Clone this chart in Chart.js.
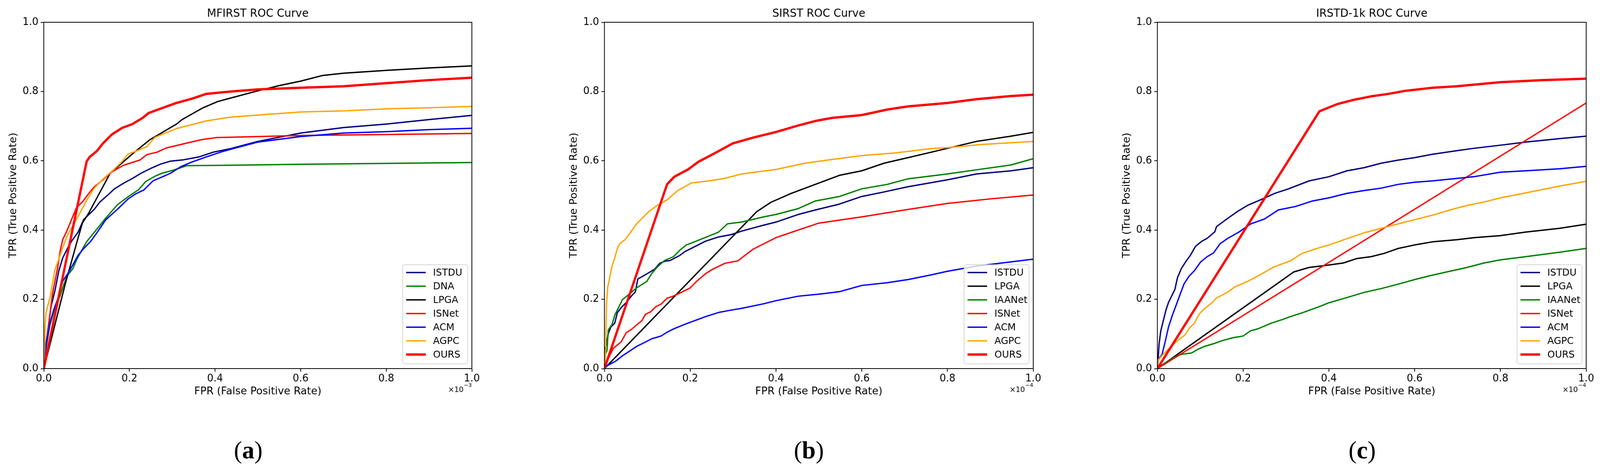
<!DOCTYPE html>
<html>
<head>
<meta charset="utf-8">
<title>ROC Curves</title>
<script src="https://cdn.jsdelivr.net/npm/chart.js"></script>
<style>
  html, body { margin: 0; background: #fff; overflow: hidden; }
  #page { position: relative; width: 4164px; height: 1214px; transform-origin: 0 0; }
  canvas { position: absolute; top: 0; }
  .tag { position: absolute; top: 1113px; width: 200px; text-align: center;
         font-family: 'Liberation Serif', serif; font-size: 64px; line-height: 80px; color: #000; }
</style>
</head>
<body>
<div id="page">
  <canvas id="chartA" width="1258" height="1040" style="left:0px"></canvas>
  <canvas id="chartB" width="1260" height="1040" style="left:1459px"></canvas>
  <canvas id="chartC" width="1260" height="1040" style="left:2898px"></canvas>
  <div class="tag" style="left:546px">(<b>a</b>)</div>
  <div class="tag" style="left:2005px">(<b>b</b>)</div>
  <div class="tag" style="left:3445px">(<b>c</b>)</div>
</div>
<script>
// ---- data: [FPR, TPR] pairs (FPR in units of the axis multiplier)
const mfirstISTDU = [[0,0],[0.002,0.045],[0.008,0.098],[0.017,0.18],[0.026,0.225],[0.035,0.282],[0.044,0.319],[0.056,0.349],[0.065,0.368],[0.08,0.394],[0.093,0.43],[0.118,0.46],[0.131,0.481],[0.152,0.504],[0.165,0.519],[0.186,0.535],[0.207,0.549],[0.227,0.564],[0.248,0.577],[0.272,0.59],[0.296,0.599],[0.327,0.603],[0.362,0.611],[0.396,0.625],[0.436,0.635],[0.5,0.656],[0.6,0.68],[0.7,0.696],[0.8,0.706],[0.9,0.719],[1.0,0.731]]
const mfirstDNA = [[0,0],[0.004,0.05],[0.014,0.124],[0.026,0.176],[0.038,0.21],[0.047,0.244],[0.056,0.27],[0.068,0.289],[0.077,0.315],[0.092,0.349],[0.101,0.368],[0.119,0.395],[0.145,0.435],[0.172,0.473],[0.2,0.499],[0.221,0.516],[0.238,0.54],[0.259,0.555],[0.276,0.564],[0.303,0.573],[0.334,0.586],[0.436,0.587],[0.6,0.59],[1.0,0.595]]
const mfirstLPGA = [[0,0],[0.05,0.244],[0.077,0.364],[0.09,0.42],[0.104,0.447],[0.155,0.564],[0.207,0.62],[0.248,0.661],[0.31,0.706],[0.323,0.719],[0.372,0.753],[0.406,0.771],[0.436,0.781],[0.5,0.802],[0.55,0.817],[0.6,0.83],[0.65,0.846],[0.7,0.853],[0.8,0.861],[0.9,0.868],[1.0,0.874]]
const mfirstISNet = [[0,0],[0.002,0.034],[0.008,0.094],[0.014,0.154],[0.02,0.214],[0.026,0.252],[0.032,0.289],[0.038,0.338],[0.044,0.372],[0.053,0.395],[0.076,0.464],[0.09,0.481],[0.104,0.504],[0.118,0.525],[0.138,0.545],[0.159,0.568],[0.186,0.587],[0.224,0.602],[0.241,0.618],[0.265,0.625],[0.286,0.637],[0.33,0.65],[0.368,0.661],[0.403,0.667],[0.436,0.668],[0.6,0.673],[0.8,0.676],[1.0,0.679]]
const mfirstACM = [[0,0],[0.004,0.056],[0.008,0.086],[0.014,0.131],[0.023,0.169],[0.032,0.199],[0.044,0.252],[0.056,0.274],[0.068,0.3],[0.08,0.327],[0.092,0.345],[0.11,0.368],[0.125,0.394],[0.145,0.43],[0.172,0.46],[0.197,0.49],[0.214,0.504],[0.234,0.516],[0.255,0.542],[0.276,0.553],[0.296,0.564],[0.32,0.583],[0.345,0.596],[0.379,0.611],[0.413,0.625],[0.436,0.633],[0.5,0.654],[0.6,0.67],[0.7,0.68],[0.8,0.684],[0.9,0.69],[1.0,0.694]]
const mfirstAGPC = [[0,0],[0.002,0.06],[0.003,0.12],[0.005,0.16],[0.01,0.185],[0.015,0.207],[0.02,0.244],[0.026,0.286],[0.035,0.316],[0.044,0.349],[0.056,0.387],[0.08,0.439],[0.1,0.486],[0.118,0.521],[0.138,0.547],[0.162,0.573],[0.183,0.598],[0.197,0.62],[0.214,0.627],[0.241,0.641],[0.259,0.667],[0.276,0.676],[0.31,0.693],[0.345,0.704],[0.379,0.715],[0.436,0.726],[0.5,0.732],[0.6,0.741],[0.7,0.744],[0.8,0.75],[0.9,0.753],[1.0,0.757]]
const mfirstOURS = [[0,0],[0.1,0.598],[0.107,0.611],[0.124,0.628],[0.138,0.65],[0.159,0.676],[0.183,0.695],[0.207,0.706],[0.231,0.724],[0.245,0.738],[0.276,0.752],[0.31,0.767],[0.345,0.779],[0.379,0.793],[0.436,0.8],[0.5,0.806],[0.6,0.811],[0.7,0.815],[0.8,0.824],[0.9,0.833],[1.0,0.84]]

const sirstISTDU = [[0,0],[0.002,0.056],[0.009,0.101],[0.015,0.12],[0.024,0.131],[0.03,0.161],[0.039,0.176],[0.051,0.191],[0.066,0.214],[0.072,0.221],[0.078,0.259],[0.087,0.265],[0.105,0.278],[0.117,0.287],[0.129,0.304],[0.141,0.31],[0.153,0.312],[0.176,0.327],[0.188,0.338],[0.212,0.353],[0.236,0.368],[0.266,0.38],[0.296,0.387],[0.32,0.397],[0.371,0.414],[0.4,0.423],[0.452,0.445],[0.492,0.458],[0.548,0.475],[0.6,0.497],[0.652,0.51],[0.708,0.525],[0.8,0.545],[0.868,0.562],[0.948,0.571],[1.0,0.58]]
const sirstLPGA = [[0,0],[0.355,0.453],[0.388,0.48],[0.436,0.506],[0.492,0.532],[0.548,0.558],[0.6,0.571],[0.652,0.593],[0.708,0.609],[0.756,0.623],[0.8,0.636],[0.868,0.656],[0.948,0.671],[1.0,0.682]]
const sirstIAANet = [[0,0],[0.002,0.041],[0.006,0.052],[0.009,0.112],[0.018,0.128],[0.024,0.154],[0.03,0.169],[0.036,0.184],[0.042,0.199],[0.057,0.214],[0.075,0.233],[0.084,0.24],[0.099,0.252],[0.11,0.274],[0.123,0.293],[0.14,0.312],[0.161,0.323],[0.176,0.342],[0.191,0.357],[0.206,0.364],[0.236,0.379],[0.266,0.394],[0.287,0.418],[0.32,0.423],[0.371,0.438],[0.4,0.445],[0.452,0.462],[0.492,0.484],[0.548,0.497],[0.6,0.519],[0.66,0.532],[0.708,0.548],[0.8,0.562],[0.868,0.574],[0.948,0.588],[1.0,0.606]]
const sirstISNet = [[0,0],[0.003,0.011],[0.012,0.037],[0.021,0.059],[0.039,0.077],[0.051,0.104],[0.063,0.113],[0.075,0.126],[0.087,0.138],[0.096,0.157],[0.108,0.164],[0.12,0.179],[0.132,0.186],[0.146,0.203],[0.158,0.208],[0.176,0.218],[0.2,0.233],[0.215,0.252],[0.236,0.274],[0.251,0.286],[0.281,0.304],[0.311,0.311],[0.347,0.345],[0.4,0.378],[0.452,0.4],[0.5,0.42],[0.6,0.438],[0.7,0.458],[0.8,0.477],[0.9,0.49],[1.0,0.501]]
const sirstACM = [[0,0],[0.006,0.008],[0.027,0.022],[0.042,0.037],[0.057,0.049],[0.075,0.064],[0.093,0.075],[0.11,0.086],[0.132,0.094],[0.146,0.105],[0.164,0.116],[0.188,0.128],[0.212,0.139],[0.236,0.15],[0.266,0.162],[0.296,0.169],[0.32,0.174],[0.371,0.187],[0.4,0.196],[0.452,0.209],[0.508,0.216],[0.548,0.222],[0.6,0.24],[0.66,0.248],[0.708,0.257],[0.76,0.27],[0.8,0.281],[0.868,0.296],[1.0,0.316]]
const sirstAGPC = [[0,0],[0.002,0.004],[0.0027,0.056],[0.0033,0.098],[0.0048,0.184],[0.0078,0.237],[0.0107,0.252],[0.0152,0.282],[0.018,0.297],[0.024,0.319],[0.03,0.346],[0.036,0.361],[0.048,0.372],[0.057,0.387],[0.075,0.418],[0.103,0.453],[0.123,0.471],[0.147,0.488],[0.171,0.514],[0.203,0.536],[0.243,0.542],[0.28,0.549],[0.32,0.562],[0.4,0.575],[0.468,0.593],[0.52,0.602],[0.6,0.615],[0.68,0.623],[0.76,0.635],[0.8,0.638],[0.88,0.647],[1.0,0.656]]
const sirstOURS = [[0,0],[0.146,0.532],[0.163,0.554],[0.195,0.575],[0.219,0.597],[0.259,0.623],[0.299,0.65],[0.347,0.667],[0.4,0.683],[0.452,0.702],[0.492,0.715],[0.532,0.724],[0.6,0.732],[0.66,0.748],[0.708,0.757],[0.8,0.767],[0.868,0.778],[0.948,0.787],[1.0,0.791]]

const irstdISTDU = [[0,0],[0.002,0.034],[0.004,0.071],[0.008,0.109],[0.014,0.139],[0.02,0.169],[0.026,0.191],[0.032,0.206],[0.041,0.229],[0.047,0.263],[0.056,0.289],[0.068,0.312],[0.077,0.327],[0.089,0.353],[0.104,0.368],[0.116,0.376],[0.134,0.395],[0.138,0.41],[0.162,0.432],[0.186,0.453],[0.21,0.471],[0.242,0.488],[0.274,0.506],[0.306,0.519],[0.354,0.542],[0.4,0.554],[0.442,0.571],[0.482,0.58],[0.522,0.593],[0.562,0.602],[0.6,0.609],[0.642,0.619],[0.698,0.629],[0.738,0.636],[0.8,0.645],[0.858,0.654],[0.938,0.664],[1.0,0.671]]
const irstdLPGA = [[0,0],[0.318,0.279],[0.354,0.292],[0.4,0.299],[0.434,0.305],[0.466,0.318],[0.498,0.323],[0.53,0.333],[0.562,0.347],[0.6,0.357],[0.642,0.366],[0.698,0.372],[0.738,0.378],[0.8,0.384],[0.858,0.394],[0.938,0.405],[1.0,0.417]]
const irstdIAANet = [[0,0],[0.011,0.011],[0.026,0.022],[0.041,0.034],[0.056,0.041],[0.08,0.045],[0.095,0.056],[0.11,0.064],[0.134,0.073],[0.152,0.081],[0.176,0.089],[0.2,0.094],[0.217,0.109],[0.235,0.115],[0.265,0.131],[0.295,0.143],[0.31,0.15],[0.338,0.161],[0.378,0.179],[0.4,0.19],[0.442,0.205],[0.482,0.22],[0.522,0.231],[0.562,0.244],[0.6,0.257],[0.642,0.27],[0.682,0.281],[0.722,0.292],[0.762,0.305],[0.8,0.314],[0.858,0.323],[0.938,0.336],[1.0,0.347]]
const irstdISNet = [[0,0],[1.0,0.767]]
const irstdACM = [[0,0],[0.002,0.026],[0.011,0.041],[0.017,0.071],[0.026,0.12],[0.035,0.154],[0.044,0.184],[0.053,0.214],[0.062,0.244],[0.074,0.267],[0.086,0.282],[0.101,0.308],[0.116,0.323],[0.131,0.334],[0.146,0.36],[0.164,0.376],[0.19,0.394],[0.218,0.418],[0.25,0.432],[0.282,0.458],[0.322,0.468],[0.362,0.484],[0.4,0.493],[0.442,0.506],[0.482,0.514],[0.522,0.521],[0.562,0.532],[0.6,0.538],[0.642,0.542],[0.698,0.549],[0.738,0.554],[0.8,0.567],[0.858,0.571],[0.938,0.577],[1.0,0.584]]
const irstdAGPC = [[0,0],[0.001,0.023],[0.011,0.038],[0.026,0.056],[0.035,0.068],[0.05,0.083],[0.065,0.098],[0.074,0.116],[0.086,0.131],[0.098,0.158],[0.11,0.173],[0.128,0.191],[0.137,0.203],[0.164,0.221],[0.181,0.236],[0.211,0.252],[0.244,0.274],[0.271,0.293],[0.31,0.311],[0.338,0.333],[0.378,0.349],[0.4,0.357],[0.442,0.375],[0.482,0.392],[0.522,0.405],[0.562,0.418],[0.6,0.43],[0.642,0.443],[0.682,0.458],[0.722,0.471],[0.762,0.481],[0.8,0.493],[0.858,0.507],[0.938,0.527],[1.0,0.541]]
const irstdOURS = [[0,0],[0.378,0.743],[0.418,0.763],[0.458,0.776],[0.498,0.786],[0.538,0.793],[0.578,0.802],[0.6,0.805],[0.642,0.811],[0.698,0.815],[0.8,0.827],[0.898,0.833],[1.0,0.837]]

const axisTicks = [0, 0.2, 0.4, 0.6, 0.8, 1.0]

// ---- styles
const colors = {
  ISTDU: '#000080', DNA: '#008000', IAANet: '#008000', LPGA: '#000000',
  ISNet: '#ff0000', ACM: '#0000ff', AGPC: '#ffa500', OURS: '#ff0000'
}

// the figure is laid out 4164px wide; squeeze it if the window is narrower
const page = document.getElementById('page')
const sx = Math.min(1, window.innerWidth / 4164)
page.style.transform = 'scaleX(' + sx + ')'

Chart.defaults.font.family = "'DejaVu Sans', sans-serif"
Chart.defaults.color = '#000'

// box around the axes (matplotlib spines)
const frame = {
  id: 'frame',
  afterDatasetsDraw(chart) {
    const { ctx, chartArea: a } = chart
    ctx.save()
    ctx.strokeStyle = '#000'
    ctx.lineWidth = 2
    ctx.strokeRect(a.left, a.top, a.right - a.left, a.bottom - a.top)
    ctx.restore()
  }
}

// legend in the lower right corner of the axes
const boxLegend = {
  id: 'boxLegend',
  afterDatasetsDraw(chart, args, opts) {
    const { ctx, chartArea: a } = chart
    const w = opts.width, h = opts.height
    const x = a.right - opts.right - w
    const y = a.bottom - opts.bottom - h
    const r = 5
    ctx.save()
    ctx.beginPath()
    ctx.moveTo(x + r, y)
    ctx.arcTo(x + w, y, x + w, y + h, r)
    ctx.arcTo(x + w, y + h, x, y + h, r)
    ctx.arcTo(x, y + h, x, y, r)
    ctx.arcTo(x, y, x + w, y, r)
    ctx.closePath()
    ctx.fillStyle = 'rgba(255,255,255,0.8)'
    ctx.fill()
    ctx.strokeStyle = 'rgba(204,204,204,0.8)'
    ctx.lineWidth = 2
    ctx.stroke()
    ctx.font = opts.fontSize + "px 'DejaVu Sans'"
    ctx.textBaseline = 'middle'
    ctx.textAlign = 'left'
    chart.data.datasets.forEach((ds, i) => {
      const ry = y + opts.firstRow + i * opts.rowGap
      ctx.strokeStyle = ds.borderColor
      ctx.lineWidth = ds.borderWidth
      ctx.beginPath()
      ctx.moveTo(x + 9, ry)
      ctx.lineTo(x + 60, ry)
      ctx.stroke()
      ctx.fillStyle = '#000'
      ctx.fillText(ds.label, x + 79, ry + 1)
    })
    ctx.restore()
  }
}

// axis multiplier text under the right end of the x axis
const offsetText = {
  id: 'offsetText',
  afterDraw(chart, args, opts) {
    const { ctx, chartArea: a } = chart
    ctx.save()
    ctx.fillStyle = '#000'
    ctx.textAlign = 'right'
    ctx.textBaseline = 'alphabetic'
    ctx.font = "14px 'DejaVu Sans'"
    const sup = '\u2212' + opts.exponent
    const supW = ctx.measureText(sup).width
    ctx.fillText(sup, a.right, a.bottom + 47)
    ctx.font = "19px 'DejaVu Sans'"
    ctx.fillText('\u00d710', a.right - supW - 1, a.bottom + 60)
    ctx.restore()
  }
}

function toPoints(pairs) {
  return pairs.map(p => ({ x: p[0], y: p[1] }))
}

function makeChart(id, title, exponent, series) {
  const datasets = series.map((s, i) => ({
    label: s.label,
    data: toPoints(s.data),
    borderColor: colors[s.label],
    borderWidth: s.label === 'OURS' ? 6 : 3.5,
    pointRadius: 0,
    tension: 0,
    fill: false,
    clip: 0,
    borderJoinStyle: 'round',
    order: series.length - 1 - i
  }))

  const axis = (text, isX) => ({
    type: 'linear',
    min: 0,
    max: 1,
    afterBuildTicks: scale => { scale.ticks = axisTicks.map(v => ({ value: v })) },
    afterFit: scale => {
      if (isX) scale.height = 96
      else scale.width = 114
    },
    ticks: {
      callback: v => v.toFixed(1),
      font: { size: 26 },
      color: '#000',
      padding: isX ? 3 : 6,
      maxRotation: 0,
      autoSkip: false
    },
    grid: {
      drawOnChartArea: false,
      drawTicks: true,
      tickLength: 8,
      tickWidth: 2,
      tickColor: '#000'
    },
    border: { display: true, color: '#000', width: 2 },
    title: {
      display: true,
      text: text,
      font: { size: 27 },
      color: '#000',
      padding: isX ? { top: 0, bottom: 20.8 } : { top: 18.8, bottom: 0 }
    }
  })

  return new Chart(document.getElementById(id), {
    type: 'line',
    data: { datasets },
    plugins: [frame, boxLegend, offsetText],
    options: {
      responsive: false,
      animation: false,
      devicePixelRatio: 1,
      layout: { padding: { left: 0, right: 30, top: 0, bottom: 0 } },
      scales: {
        x: axis('FPR (False Positive Rate)', true),
        y: axis('TPR (True Positive Rate)', false)
      },
      plugins: {
        legend: { display: false },
        tooltip: { enabled: false },
        title: {
          display: true,
          text: title,
          fullSize: false,
          color: '#000',
          font: { size: 28, weight: 'normal' },
          padding: { top: 19.2, bottom: 4.2 }
        },
        boxLegend: { width: 169, height: 254, right: 11, bottom: 12, firstRow: 20, rowGap: 35, fontSize: 25 },
        offsetText: { exponent: exponent }
      }
    }
  })
}

makeChart('chartA', 'MFIRST ROC Curve', 3, [
  { label: 'ISTDU', data: mfirstISTDU },
  { label: 'DNA', data: mfirstDNA },
  { label: 'LPGA', data: mfirstLPGA },
  { label: 'ISNet', data: mfirstISNet },
  { label: 'ACM', data: mfirstACM },
  { label: 'AGPC', data: mfirstAGPC },
  { label: 'OURS', data: mfirstOURS }
])

makeChart('chartB', 'SIRST ROC Curve', 4, [
  { label: 'ISTDU', data: sirstISTDU },
  { label: 'LPGA', data: sirstLPGA },
  { label: 'IAANet', data: sirstIAANet },
  { label: 'ISNet', data: sirstISNet },
  { label: 'ACM', data: sirstACM },
  { label: 'AGPC', data: sirstAGPC },
  { label: 'OURS', data: sirstOURS }
])

makeChart('chartC', 'IRSTD-1k ROC Curve', 4, [
  { label: 'ISTDU', data: irstdISTDU },
  { label: 'LPGA', data: irstdLPGA },
  { label: 'IAANet', data: irstdIAANet },
  { label: 'ISNet', data: irstdISNet },
  { label: 'ACM', data: irstdACM },
  { label: 'AGPC', data: irstdAGPC },
  { label: 'OURS', data: irstdOURS }
])
</script>
</body>
</html>
